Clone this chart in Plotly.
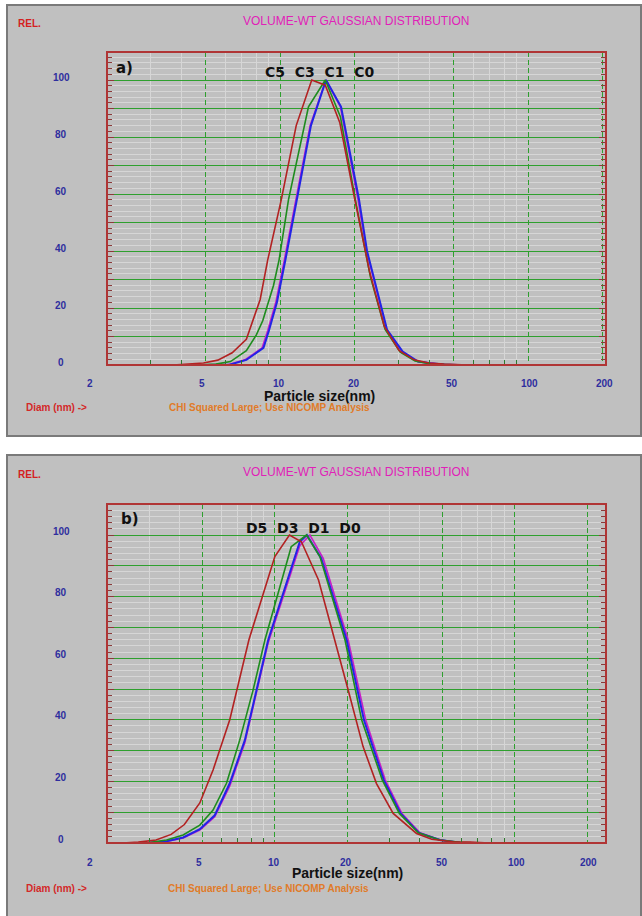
import numpy as np
import plotly.graph_objects as go

W, H = 642, 916

# ---------------- data ----------------
# Panel a
a_c5_d = [3.7, 4.3, 4.9, 5.6, 6.4, 7.3, 8.3, 8.9, 10.1, 11.6, 13.4, 15.2, 17.4, 20.0, 22.9, 26.3, 30.2, 34.7, 39.8, 45.7, 52.5, 57.0]
a_c5_y = [0, 0.3, 0.7, 1.7, 4.3, 9, 23, 36.8, 58, 84, 100, 98.2, 85, 58, 33, 13.5, 5, 1.8, 0.7, 0.3, 0.2, 0]
a_c3_d = [4.6, 5.5, 6.3, 7.3, 8.0, 8.5, 9.4, 9.9, 10.8, 13.0, 15.2, 17.5, 20.1, 23.1, 26.5, 30.5, 35.0, 40.0, 46.0, 53.0]
a_c3_y = [0, 0.3, 1.2, 5, 10.5, 15.5, 28, 37, 58, 90.6, 100, 87, 58, 31, 12.5, 4.5, 1.4, 0.5, 0.2, 0]
a_c1_d = [5.0, 6.2, 7.2, 8.45, 8.9, 9.6, 10.4, 11.6, 13.2, 15.3, 17.5, 20.6, 22.3, 26.9, 31.0, 35.8, 40.0, 45.0, 50.0]
a_c1_y = [0, 0.2, 1.8, 6, 12, 22, 37, 58, 84, 100, 90.6, 58, 40, 12.3, 4.7, 1.2, 0.6, 0.2, 0]
a_c0_d = [5.0, 6.3, 7.3, 8.56, 9.0, 9.7, 10.5, 11.7, 13.3, 15.3, 17.6, 20.8, 22.4, 27.0, 31.2, 36.0, 40.3, 46.0, 52.0]
a_c0_y = [0, 0.2, 1.8, 6, 12, 22, 37, 58, 84, 100, 90.6, 58, 40, 12.3, 4.7, 1.2, 0.6, 0.2, 0]

# Panel b
b_d5_d = [2.33, 2.7, 3.2, 3.7, 4.2, 4.87, 5.53, 6.49, 7.8, 10.0, 11.5, 12.9, 15.2, 17.8, 20.2, 23.3, 26.5, 31.1, 38.9, 45, 55, 65, 78]
b_d5_y = [0, 0.3, 1, 2.8, 6, 13, 23.7, 40, 66, 93, 100, 97.8, 85.4, 66, 49.7, 31.3, 19.3, 9.6, 3.1, 1.2, 0.4, 0.3, 0]
b_d3_d = [2.9, 3.0, 3.54, 4.15, 4.87, 5.53, 6.29, 7.14, 8.12, 9.09, 11.7, 13.55, 15.4, 19.6, 23.0, 28.0, 33.0, 39.6, 48.7, 59, 70]
b_d3_y = [0, 0.2, 1, 2.6, 5.8, 10.7, 19.4, 33.4, 49.7, 65.9, 96.2, 100, 93, 65.9, 39.9, 20.5, 9.6, 3.3, 1, 0.2, 0]
b_d1_d = [2.33, 3.0, 3.54, 4.15, 4.87, 5.62, 6.49, 7.5, 8.39, 9.38, 12.7, 13.6, 15.6, 19.9, 23.5, 28.4, 33.4, 39.8, 48.7, 59, 66]
b_d1_y = [0, 0.1, 0.6, 1.8, 4.5, 9, 19.4, 33.4, 49.7, 65.9, 97.8, 100, 92.4, 65.9, 39.9, 20.5, 9.6, 3.3, 1, 0.1, 0]
b_d0_d = [2.33, 3.0, 3.54, 4.15, 4.87, 5.62, 6.49, 7.5, 8.39, 9.38, 12.7, 14.0, 15.9, 20.2, 23.9, 28.8, 33.8, 40.2, 49, 60, 68]
b_d0_y = [0, 0.1, 0.5, 1.6, 4.2, 8.5, 18.5, 32.5, 49, 65, 96.5, 100, 92.4, 65.9, 39.9, 20.5, 9.6, 3.3, 1, 0.1, 0]

x_tick_vals = [2, 5, 10, 20, 50, 100, 200]
x_tick_text = ["2", "5", "10", "20", "50", "100", "200"]
x_minor_vals = [3, 4, 6, 7, 8, 9, 30, 40, 60, 70, 80, 90]
y_tick_vals = [0, 20, 40, 60, 80, 100]
y_major_vals = [10, 20, 30, 40, 50, 60, 70, 80, 90, 100]
y_minor_vals = [v for v in range(2, 110, 2) if v % 10 != 0]
labels_a = "C5  C3  C1  C0"
labels_b = "D5  D3  D1  D0"

RED = "#b22222"
GREEN = "#1e8c1e"
MAG = "#c81ec8"
BLUE = "#2323e6"
GRIDG = "#2ea02e"
MINORG = "#d6d6d6"
TICKG = "#2f7a2f"
BROWN = "#8b3a3a"
NAVY = "#2e2e9e"
FONT = "Liberation Sans, Arial, sans-serif"
BFONT = "DejaVu Sans, sans-serif"


def px(x):
    return x / W


def py(y):
    return 1 - y / H


fig = go.Figure()

panels = [
    dict(xa="x", ya="y",
         series=[(a_c1_d, a_c1_y, MAG, 1.6), (a_c0_d, a_c0_y, BLUE, 2.0),
                 (a_c3_d, a_c3_y, GREEN, 1.6), (a_c5_d, a_c5_y, RED, 1.6)]),
    dict(xa="x2", ya="y2",
         series=[(b_d0_d, b_d0_y, MAG, 1.6), (b_d1_d, b_d1_y, BLUE, 2.0),
                 (b_d3_d, b_d3_y, GREEN, 1.6), (b_d5_d, b_d5_y, RED, 1.6)]),
]

for p in panels:
    for d, y, c, w in p["series"]:
        fig.add_trace(go.Scatter(x=d, y=y, mode="lines", line=dict(color=c, width=w),
                                 xaxis=p["xa"], yaxis=p["ya"], showlegend=False, hoverinfo="skip"))

# geometry (pixels)
geo = {
    "a": dict(left=107, right=606, top=52, bottom=365, xr=[np.log10(2), 2.3145], yr=[0, 313 / 2.85]),
    "b": dict(left=107, right=606, top=504, bottom=843, xr=[np.log10(2), 2.379], yr=[0, 339 / 3.08]),
}


def xaxis_def(g, anchor):
    return dict(
        domain=[px(g["left"]), px(g["right"])], type="log", range=g["xr"], anchor=anchor,
        tickmode="array", tickvals=x_tick_vals[1:], showticklabels=False, ticks="",
        showgrid=True, gridcolor=GRIDG, gridwidth=1, griddash="5px,3px",
        zeroline=False, showline=False, mirror="ticks", fixedrange=True,
        minor=dict(tickmode="array", tickvals=x_minor_vals, showgrid=True, gridcolor=MINORG,
                   gridwidth=1, griddash="solid", ticks="inside", ticklen=5, tickcolor=TICKG, tickwidth=1),
    )


def yaxis_def(g, anchor):
    return dict(
        domain=[py(g["bottom"]), py(g["top"])], range=g["yr"], anchor=anchor,
        tickmode="array", tickvals=y_major_vals, showticklabels=False,
        ticks="inside", ticklen=7, tickcolor=BROWN, tickwidth=1, mirror="ticks",
        showgrid=True, gridcolor=GRIDG, gridwidth=1, zeroline=False, showline=False,
        fixedrange=True,
        minor=dict(tickmode="array", tickvals=y_minor_vals, showgrid=True, gridcolor=MINORG,
                   gridwidth=1, griddash="solid", ticks="inside", ticklen=5, tickcolor=BROWN, tickwidth=1),
    )


ga, gb = geo["a"], geo["b"]
fig.update_layout(
    width=W, height=H, autosize=False, margin=dict(l=0, r=0, t=0, b=0),
    paper_bgcolor="white", plot_bgcolor="white", showlegend=False,
    xaxis=xaxis_def(ga, "y"), yaxis=yaxis_def(ga, "x"),
    xaxis2=xaxis_def(gb, "y2"), yaxis2=yaxis_def(gb, "x2"),
)

shapes = []
# gray instrument panels
for (y0, y1) in [(5, 436), (455, 918)]:
    shapes.append(dict(type="rect", xref="paper", yref="paper", x0=px(7), x1=px(641), y0=py(y1), y1=py(y0),
                       fillcolor="#c0c0c0", line=dict(color="#7a7a7a", width=2), layer="below"))
# plot frames
for xr, yr in [("x", "y"), ("x2", "y2")]:
    shapes.append(dict(type="rect", xref=xr + " domain", yref=yr + " domain", x0=0, x1=1, y0=0, y1=1,
                       line=dict(color="#b03535", width=2), layer="above"))
fig.update_layout(shapes=shapes)

ann = []


def text(t, x, y, size, color, bold=False, xanchor="center", family=FONT):
    ann.append(dict(text=t, x=px(x), y=py(y), xref="paper", yref="paper", showarrow=False,
                    xanchor=xanchor, yanchor="middle",
                    font=dict(family=family, size=size, color=color, weight="bold" if bold else "normal")))


panel_text = [
    dict(xa="x", ya="y", rel=24, title=20.7, xl=383, ps=(319, 396), diam=407.7, chi=(167, 407.7),
         tag=("a)", 114, 68), lab=(labels_a, 320, 72), yshift=3),
    dict(xa="x2", ya="y2", rel=474, title=471.5, xl=862, ps=(347.5, 873), diam=888, chi=(166, 888),
         tag=("b)", 119, 519), lab=(labels_b, 303, 528), yshift=4),
]

for p in panel_text:
    text("REL.", 16, p["rel"], 10, "#d42020", bold=True, xanchor="left")
    text("VOLUME-WT GAUSSIAN DISTRIBUTION", 356, p["title"], 12, "#e020b8")
    for v in y_tick_vals:
        ann.append(dict(text=str(v), x=px(61), y=v, xref="paper", yref=p["ya"], yshift=p["yshift"],
                        showarrow=False, xanchor="center", yanchor="middle",
                        font=dict(family=FONT, size=10, color=NAVY, weight="bold")))
    for v, t in zip(x_tick_vals, x_tick_text):
        ann.append(dict(text=t, x=np.log10(v), y=py(p["xl"]), xref=p["xa"], yref="paper",
                        xshift=-22 if v == 2 else -9, showarrow=False, xanchor="left", yanchor="middle",
                        font=dict(family=FONT, size=10, color=NAVY, weight="bold")))
    text("Particle size(nm)", p["ps"][0], p["ps"][1], 14, "#111111", bold=True)
    text("Diam (nm) ->", 24, p["diam"], 10, "#d42828", bold=True, xanchor="left")
    text("CHI Squared Large; Use NICOMP Analysis", p["chi"][0], p["chi"][1], 10, "#e07b28", bold=True, xanchor="left")
    text(p["tag"][0], p["tag"][1], p["tag"][2], 15, "#111111", bold=True, xanchor="left", family=BFONT)
    text(p["lab"][0].replace(" ", "&nbsp;"), p["lab"][1], p["lab"][2], 14, "#111111", bold=True, family=BFONT)

fig.update_layout(annotations=ann)
fig.write_html("out.html")
